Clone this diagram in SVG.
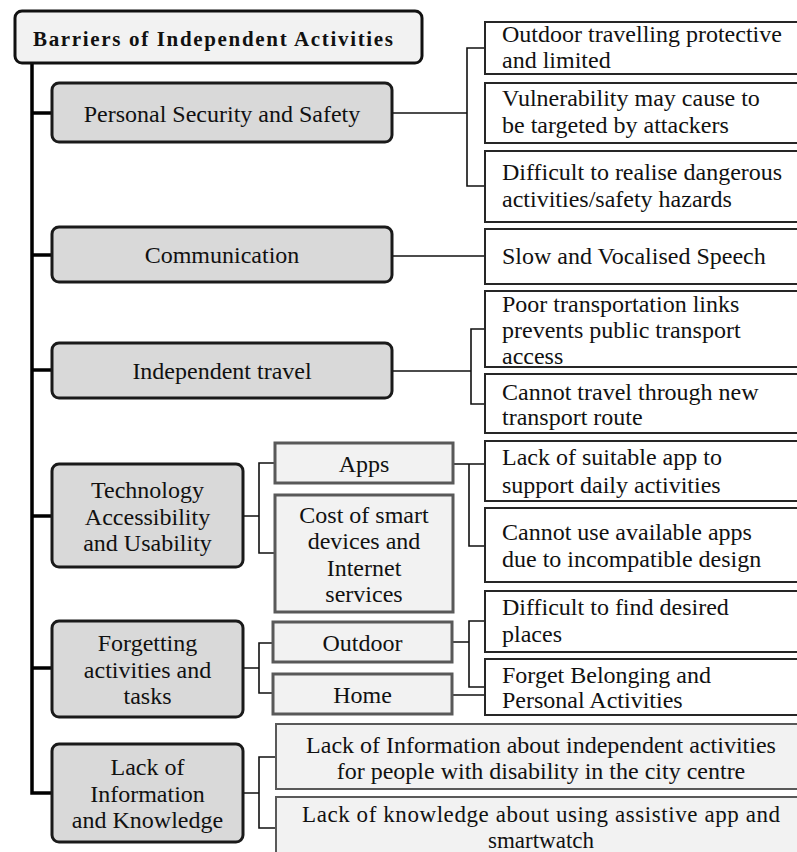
<svg xmlns="http://www.w3.org/2000/svg" width="797" height="852" viewBox="0 0 797 852">
  <style>
    text { font-family: "Liberation Serif", "Times New Roman", serif; font-size: 24px; fill: #111; }
    .title { font-weight: bold; font-size: 21px; }
    .c { text-anchor: middle; }
    .tight { font-size: 23px; }
    .root { fill: #f2f2f2; stroke: #111; stroke-width: 3; }
    .cat { fill: #d9d9d9; stroke: #1a1a1a; stroke-width: 3; }
    .sub { fill: #f2f2f2; stroke: #595959; stroke-width: 3; }
    .leaf { fill: #ffffff; stroke: #262626; stroke-width: 2; }
    .info { fill: #f2f2f2; stroke: #595959; stroke-width: 2; }
    .trunk { fill: none; stroke: #000; stroke-width: 3.5; }
    .branch { fill: none; stroke: #111; stroke-width: 1.6; }
  </style>

  <rect width="797" height="852" fill="#ffffff"/>

  <!-- connectors -->
  <g id="connectors">
    <!-- main trunk and category stubs -->
    <path class="trunk" d="M32 63 V793 H52 M32 113 H52 M32 255 H52 M32 370 H52 M32 516 H52 M32 668 H52"/>
    <!-- personal security -->
    <path class="branch" stroke-width="2" d="M392 113 H467"/>
    <path class="branch" d="M485 48 H467 V186 H485"/>
    <!-- communication -->
    <path class="branch" d="M392 256 H485"/>
    <!-- independent travel -->
    <path class="branch" d="M392 371 H471 M485 329 H471 V404 H485"/>
    <!-- technology -->
    <path class="branch" d="M243 516 H259 M275 463 H259 V553 H275"/>
    <!-- apps -->
    <path class="branch" d="M453 464 H485 M469 464 V546 H485"/>
    <!-- forgetting -->
    <path class="branch" d="M243 668 H259 M273 643 H259 V693 H273"/>
    <!-- outdoor / home -->
    <path class="branch" d="M452 642 H469 M485 621 H469 V687 H485 M452 695 H485"/>
    <!-- lack of information -->
    <path class="branch" d="M243 793 H259 M276 757 H259 V828 H276"/>
  </g>

  <!-- root -->
  <g id="root">
    <rect class="root" x="15" y="11" width="407" height="52" rx="7"/>
    <text class="title c" x="213" y="46" textLength="360" lengthAdjust="spacing">Barriers of Independent Activities</text>
  </g>

  <!-- categories -->
  <g id="cat-safety">
    <rect class="cat" x="52" y="83" width="340" height="59" rx="7"/>
    <text class="c" x="222" y="122">Personal Security and Safety</text>
  </g>
  <g id="cat-communication">
    <rect class="cat" x="52" y="227" width="340" height="55" rx="7"/>
    <text class="c" x="222" y="263">Communication</text>
  </g>
  <g id="cat-travel">
    <rect class="cat" x="52" y="343" width="340" height="55" rx="7"/>
    <text class="c" x="222" y="379">Independent travel</text>
  </g>
  <g id="cat-technology">
    <rect class="cat" x="52" y="464" width="191" height="103" rx="7"/>
    <text class="c" x="147.5" y="498">Technology</text>
    <text class="c" x="147.5" y="525">Accessibility</text>
    <text class="c" x="147.5" y="551">and Usability</text>
  </g>
  <g id="cat-forgetting">
    <rect class="cat" x="52" y="621" width="191" height="96" rx="7"/>
    <text class="c" x="147.5" y="651">Forgetting</text>
    <text class="c" x="147.5" y="678">activities and</text>
    <text class="c" x="147.5" y="704">tasks</text>
  </g>
  <g id="cat-information">
    <rect class="cat" x="52" y="744" width="191" height="98" rx="7"/>
    <text class="c" x="147.5" y="775">Lack of</text>
    <text class="c" x="147.5" y="802">Information</text>
    <text class="c" x="147.5" y="828">and Knowledge</text>
  </g>

  <!-- sub-categories -->
  <g id="sub-apps">
    <rect class="sub" x="275" y="443" width="178" height="40"/>
    <text class="c" x="364" y="472">Apps</text>
  </g>
  <g id="sub-cost">
    <rect class="sub" x="275" y="495" width="178" height="117"/>
    <text class="c" x="364" y="523">Cost of smart</text>
    <text class="c" x="364" y="549">devices and</text>
    <text class="c" x="364" y="576">Internet</text>
    <text class="c" x="364" y="602">services</text>
  </g>
  <g id="sub-outdoor">
    <rect class="sub" x="273" y="622" width="179" height="40"/>
    <text class="c" x="362.5" y="651">Outdoor</text>
  </g>
  <g id="sub-home">
    <rect class="sub" x="273" y="674" width="179" height="40"/>
    <text class="c" x="362.5" y="703">Home</text>
  </g>

  <!-- leaf barriers -->
  <g id="leaf-outdoor-travel">
    <rect class="leaf" x="485" y="22" width="320" height="52"/>
    <text x="502" y="42">Outdoor travelling protective</text>
    <text x="502" y="68">and limited</text>
  </g>
  <g id="leaf-vulnerability">
    <rect class="leaf" x="485" y="83" width="320" height="60"/>
    <text x="502" y="106">Vulnerability may cause to</text>
    <text x="502" y="133">be targeted by attackers</text>
  </g>
  <g id="leaf-hazards">
    <rect class="leaf" x="485" y="151" width="320" height="71"/>
    <text x="502" y="180">Difficult to realise dangerous</text>
    <text x="502" y="207">activities/safety hazards</text>
  </g>
  <g id="leaf-speech">
    <rect class="leaf" x="485" y="229" width="320" height="55"/>
    <text x="502" y="264">Slow and Vocalised Speech</text>
  </g>
  <g id="leaf-transport-links">
    <rect class="leaf" x="485" y="291" width="320" height="76"/>
    <text x="502" y="312">Poor transportation links</text>
    <text x="502" y="338">prevents public transport</text>
    <text x="502" y="364">access</text>
  </g>
  <g id="leaf-new-route">
    <rect class="leaf" x="485" y="374" width="320" height="59"/>
    <text x="502" y="400">Cannot travel through new</text>
    <text x="502" y="425">transport route</text>
  </g>
  <g id="leaf-suitable-app">
    <rect class="leaf" x="485" y="441" width="320" height="60"/>
    <text x="502" y="465">Lack of suitable app to</text>
    <text x="502" y="493">support daily activities</text>
  </g>
  <g id="leaf-incompatible">
    <rect class="leaf" x="485" y="508" width="320" height="74"/>
    <text x="502" y="540">Cannot use available apps</text>
    <text x="502" y="567">due to incompatible design</text>
  </g>
  <g id="leaf-places">
    <rect class="leaf" x="485" y="591" width="320" height="61"/>
    <text x="502" y="615">Difficult to find desired</text>
    <text x="502" y="642">places</text>
  </g>
  <g id="leaf-belonging">
    <rect class="leaf" x="485" y="659" width="320" height="56"/>
    <text x="502" y="683">Forget Belonging and</text>
    <text x="502" y="708">Personal Activities</text>
  </g>
  <g id="info-activities">
    <rect class="info" x="276" y="724" width="530" height="65"/>
    <text class="c" x="541" y="753">Lack of Information about independent activities</text>
    <text class="c" x="541" y="779">for people with disability in the city centre</text>
  </g>
  <g id="info-assistive">
    <rect class="info" x="276" y="797" width="530" height="70"/>
    <text class="c tight" x="541" y="822" textLength="478" lengthAdjust="spacing">Lack of knowledge about using assistive app and</text>
    <text class="c tight" x="541" y="848">smartwatch</text>
  </g>
</svg>
